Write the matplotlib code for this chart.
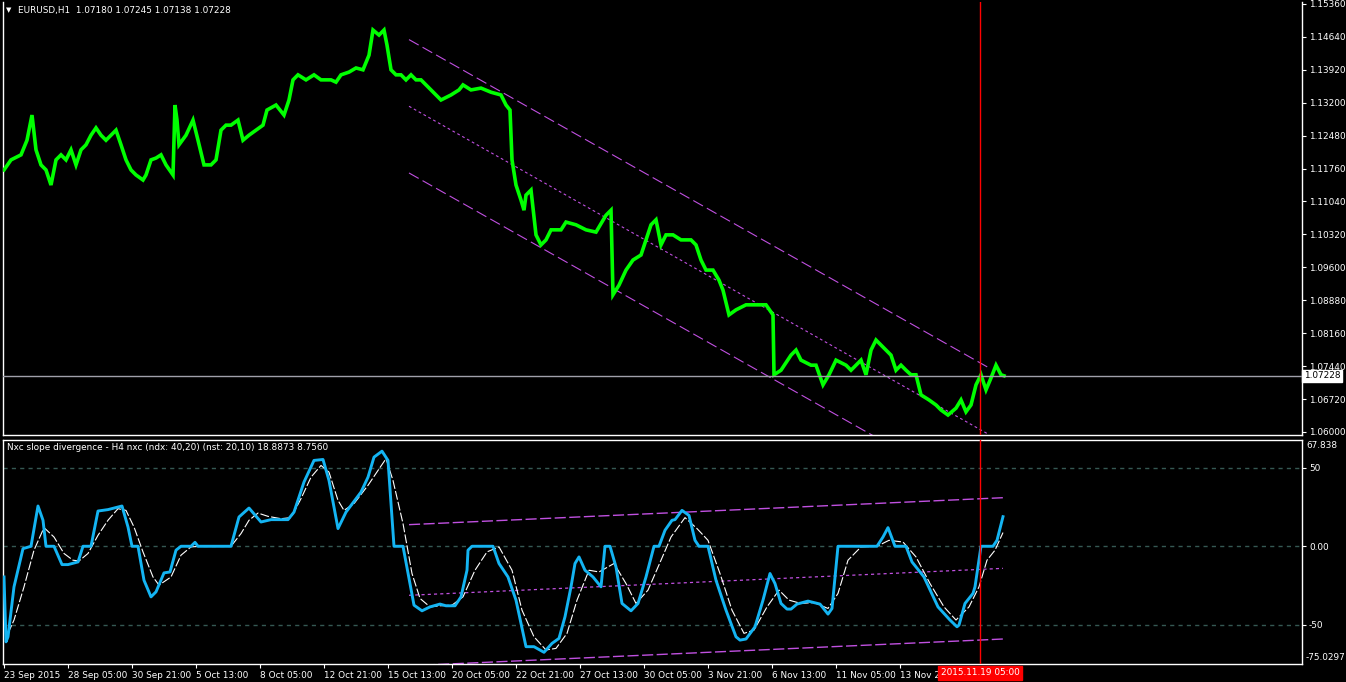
import numpy as np
import matplotlib.pyplot as plt
from matplotlib.transforms import blended_transform_factory

plt.rcParams['font.family'] = 'DejaVu Sans'

# EURUSD H1 (bar index -> price)
price_bar = [0, 7, 17, 23, 28, 32, 37, 42, 47, 52, 57, 62, 67, 72, 77, 82, 87, 92, 97, 102,
             107, 112, 117, 122, 127, 132, 139, 142, 147, 152, 157, 162, 169, 171, 173, 175, 182,
             189, 194, 200, 207, 212, 217, 222, 227, 234, 239, 245, 252, 259, 263, 272, 280, 285,
             289, 294, 302, 310, 317, 327, 332, 337, 345, 352, 359, 365, 369, 375, 380, 383, 387,
             392, 397, 402, 407, 412, 417, 427, 437, 447, 455, 459, 467, 477, 487, 497, 502, 506,
             508, 512, 517, 520, 522, 527, 532, 537, 542, 547, 557, 562, 572, 582, 592, 602, 607,
             609, 615, 622, 629, 637, 642, 647, 652, 657, 662, 669, 677, 687, 692, 697, 702, 709,
             715, 719, 725, 732, 742, 752, 762, 769, 770, 777, 787, 792, 797, 807, 812, 819, 825,
             832, 842, 847, 857, 862, 867, 872, 877, 882, 887, 892, 897, 902, 907, 912, 917, 925,
             932, 937, 944, 952, 957, 962, 967, 972, 977, 982, 987, 992, 997, 1000]
price = [1.1173, 1.1195, 1.1206, 1.1238, 1.1293, 1.1217, 1.1184, 1.1173, 1.1140, 1.1195,
         1.1206, 1.1195, 1.1217, 1.1184, 1.1217, 1.1228, 1.1249, 1.1265, 1.1249, 1.1238,
         1.1249, 1.1260, 1.1228, 1.1195, 1.1173, 1.1162, 1.1151, 1.1162, 1.1195, 1.1199,
         1.1206, 1.1184, 1.1162, 1.1315, 1.1282, 1.1228, 1.1249, 1.1282, 1.1238, 1.1184,
         1.1184, 1.1195, 1.1260, 1.1271, 1.1271, 1.1282, 1.1238, 1.1249, 1.1260, 1.1271,
         1.1304, 1.1315, 1.1293, 1.1326, 1.1370, 1.1381, 1.1370, 1.1381, 1.1370, 1.1370,
         1.1365, 1.1381, 1.1387, 1.1396, 1.1392, 1.1424, 1.1479, 1.1468, 1.1479, 1.1446,
         1.1392, 1.1381, 1.1381, 1.1370, 1.1381, 1.1370, 1.1370, 1.1348, 1.1326, 1.1337,
         1.1348, 1.1359, 1.1348, 1.1352, 1.1343, 1.1337, 1.1315, 1.1304, 1.1195, 1.1140,
         1.1107, 1.1085, 1.1118, 1.1129, 1.1031, 1.1009, 1.1020, 1.1042, 1.1042, 1.1059,
         1.1053, 1.1042, 1.1037, 1.1074, 1.1085, 1.0900, 1.0921, 1.0954, 1.0976, 1.0987,
         1.1020, 1.1053, 1.1064, 1.1009, 1.1031, 1.1031, 1.1020, 1.1020, 1.1009, 1.0976,
         1.0954, 1.0954, 1.0932, 1.0910, 1.0856, 1.0867, 1.0878, 1.0878, 1.0878, 1.0856,
         1.0725, 1.0735, 1.0768, 1.0779, 1.0757, 1.0746, 1.0746, 1.0703, 1.0725, 1.0757,
         1.0746, 1.0735, 1.0757, 1.0725, 1.0779, 1.0801, 1.0790, 1.0779, 1.0768, 1.0735,
         1.0746, 1.0735, 1.0725, 1.0725, 1.0681, 1.0670, 1.0659, 1.0648, 1.0637, 1.0652,
         1.0670, 1.0644, 1.0659, 1.0703, 1.0725, 1.0692, 1.0718, 1.0746, 1.0725, 1.07228]

# Nxc slope divergence: main line and signal line
main_bar = [0, 2, 4, 10, 19, 27, 34, 39, 42, 50, 58, 64, 74, 79, 87, 94, 104, 118, 124, 128,
            134, 140, 147, 152, 160, 166, 172, 177, 187, 191, 194, 227, 235, 245, 257, 267, 284,
            290, 300, 310, 319, 325, 334, 342, 357, 364, 370, 378, 384, 390, 399, 410, 418, 426,
            436, 442, 451, 457, 463, 464, 468, 489, 495, 504, 512, 522, 530, 540, 548, 555, 561,
            567, 571, 575, 581, 589, 597, 601, 606, 612, 618, 627, 634, 642, 650, 655, 661, 668,
            671, 678, 685, 691, 695, 704, 712, 722, 732, 736, 742, 751, 759, 766, 771, 777, 783,
            787, 793, 804, 816, 824, 828, 832, 834, 873, 879, 884, 891, 902, 908, 920, 934, 946,
            953, 955, 961, 969, 971, 977, 989, 993, 999]
main_val = [-19.6, -61.0, -57.8, -25.9, -1.5, 0, 25.7, 16.6, 0, 0, -11.7, -11.7, -10.0, 0, 0,
            22.5, 23.4, 25.7, 12.3, 0, 0, -21.7, -32.3, -29.1, -17.0, -16.4, -2.5, 0, 0, 2.5, 0,
            0, 18.7, 24.4, 15.5, 17.0, 17.0, 21.8, 41.0, 54.8, 55.4, 42.0, 11.3, 21.8, 34.6, 44.1,
            56.9, 60.7, 54.8, 0, 0, -37.6, -41.2, -38.7, -36.9, -38.0, -38.0, -32.3, -15.3, -2.5,
            0, 0, -11.0, -19.6, -34.4, -64.1, -64.1, -67.7, -62.0, -58.8, -45.0, -25.9, -11.0,
            -6.8, -15.3, -19.6, -25.9, 0, 0, -13.2, -36.5, -41.2, -36.5, -19.6, 0, 0, 10.2, 16.6,
            17.0, 22.9, 19.7, 3.8, 0, 0, -21.7, -40.8, -57.8, -59.9, -59.2, -51.4, -34.4, -17.4,
            -23.8, -36.5, -40.1, -40.1, -36.9, -35.0, -36.9, -43.3, -39.7, -13.2, 0, 0, 5.9, 11.9,
            0, 0, -10.0, -19.6, -38.7, -47.1, -51.4, -50.3, -36.5, -30.1, -25.9, 0, 0, 3.8, 18.8873]

sig_bar = [4, 10, 20, 30, 40, 50, 60, 69, 75, 84, 94, 104, 114, 122, 130, 139, 149, 155, 167,
           177, 187, 197, 227, 237, 245, 254, 264, 277, 287, 297, 307, 317, 325, 334, 340, 350,
           364, 374, 382, 389, 399, 408, 416, 426, 436, 448, 459, 471, 483, 495, 508, 518, 530,
           542, 552, 563, 573, 585, 595, 610, 622, 632, 644, 657, 667, 681, 693, 704, 716, 728,
           740, 750, 763, 775, 785, 797, 810, 824, 834, 844, 857, 873, 885, 899, 912, 926, 940,
           952, 965, 975, 983, 991, 999]
sig_val = [-55.6, -47.1, -25.9, -2.5, 11.9, 5.9, -4.6, -8.9, -9.4, -4.6, 7.0, 16.6, 24.0, 22.9,
           12.3, -3.6, -19.6, -24.8, -19.6, -5.7, -0.4, 0, 0, 8.1, 16.6, 21.2, 19.1, 17.6, 18.3,
           30.4, 44.1, 51.6, 47.3, 29.3, 22.9, 27.2, 38.9, 48.4, 55.9, 42.0, 14.5, -17.4, -33.3,
           -38.7, -38.0, -37.6, -32.3, -15.3, -3.6, -0.4, -15.3, -40.8, -57.8, -66.2, -65.2,
           -55.6, -34.4, -15.3, -16.4, -11.0, -23.8, -36.5, -28.0, -8.9, 5.9, 18.3, 11.3, 3.8,
           -17.4, -40.8, -55.6, -53.5, -38.7, -28.0, -34.4, -36.5, -35.9, -39.7, -30.1, -8.9,
           -0.4, 0, 3.8, 2.7, -6.8, -23.8, -38.7, -47.1, -38.7, -25.9, -8.9, -2.5, 8.756]

price_ticks = [1.15360, 1.14640, 1.13920, 1.13200, 1.12480, 1.11760, 1.11040,
               1.10320, 1.09600, 1.08880, 1.08160, 1.07440, 1.06720, 1.06000]
time_labels = ['23 Sep 2015', '28 Sep 05:00', '30 Sep 21:00', '5 Oct 13:00', '8 Oct 05:00',
               '12 Oct 21:00', '15 Oct 13:00', '20 Oct 05:00', '22 Oct 21:00', '27 Oct 13:00',
               '30 Oct 05:00', '3 Nov 21:00', '6 Nov 13:00', '11 Nov 05:00', '13 Nov 21:00']
time_step = 64
levels = [50, 0, -50]
level_labels = ['50', '0.00', '-50']

# regression channels (start bar, end bar)
chan_bars = [405, 984]
chan_upper = [1.14581, 1.07413]
chan_mid = [1.13123, 1.05955]
chan_lower = [1.11664, 1.04496]
osc_bars = [405, 999]
osc_upper = [13.8, 31.0]
osc_mid = [-31.3, -14.1]
osc_lower = [-76.3, -59.2]

bid = 1.07228
cursor_bar = 976
cursor_label = '2015.11.19 05:00'
title_top = 'EURUSD,H1  1.07180 1.07245 1.07138 1.07228'
title_bot = 'Nxc slope divergence - H4 nxc (ndx: 40,20) (nst: 20,10) 18.8873 8.7560'

W, H = 1346, 682
fs = 6.4
violet = '#c050e0'
fig = plt.figure(figsize=(W / 100, H / 100), dpi=100, facecolor='black')
ax1 = fig.add_axes([3 / W, (H - 435) / H, 1299 / W, 433 / H], facecolor='black')
ax2 = fig.add_axes([3 / W, (H - 663.8) / H, 1299 / W, 223.8 / H], facecolor='black')

for ax in (ax1, ax2):
    ax.set_xlim(-1, 1298)
    for s in ax.spines.values():
        s.set_color('white')
        s.set_linewidth(1)
    ax.yaxis.tick_right()
    ax.tick_params(axis='y', colors='white', labelcolor='white', length=3,
                   labelsize=fs, pad=2, direction='out')
    ax.axvline(cursor_bar, color='red', lw=1, zorder=5)
ax1.spines['top'].set_visible(False)

# --- price panel
ax1.set_ylim(1.05933, 1.15403)
ax1.set_yticks(price_ticks)
ax1.set_yticklabels(['%.5f' % p for p in price_ticks])
ax1.tick_params(axis='x', bottom=False, labelbottom=False)
ax1.plot(price_bar, price, color='#00ff00', lw=2.6, solid_joinstyle='miter', zorder=3)
ax1.plot(chan_bars, chan_upper, color=violet, lw=0.8, ls=(0, (10, 4)), zorder=2)
ax1.plot(chan_bars, chan_lower, color=violet, lw=0.8, ls=(0, (10, 4)), zorder=2)
ax1.plot(chan_bars, chan_mid, color=violet, lw=0.8, ls=(0, (2.5, 2.5)), zorder=2)
ax1.axhline(bid, color='#a0a0aa', lw=1, zorder=4)
tr1 = blended_transform_factory(ax1.transAxes, ax1.transData)
ax1.text(1.0015, bid, '1.07228', transform=tr1, color='black', fontsize=fs, va='center',
         ha='left', bbox=dict(boxstyle='square,pad=0.2', fc='white', ec='white'))
fig.text(6 / W, 1 - 10 / H, '\u25BC', color='white', fontsize=5, va='center')
fig.text(18 / W, 1 - 10 / H, title_top, color='white', fontsize=fs, va='center')

# --- oscillator panel
ax2.set_ylim(-75.0297, 67.838)
ax2.set_yticks(levels)
ax2.set_yticklabels(level_labels)
for lv in levels:
    ax2.axhline(lv, color='#355853', lw=1, ls=(0, (3, 3)), zorder=1)
ax2.plot(osc_bars, osc_upper, color=violet, lw=1, ls=(0, (8, 2.5)), zorder=2)
ax2.plot(osc_bars, osc_lower, color=violet, lw=1, ls=(0, (8, 2.5)), zorder=2)
ax2.plot(osc_bars, osc_mid, color=violet, lw=0.9, ls=(0, (2.5, 2.5)), zorder=2)
ax2.plot(sig_bar, sig_val, color='white', lw=0.8, ls=(0, (8, 2)), zorder=3)
ax2.plot(main_bar, main_val, color='#14b4f2', lw=2.1, zorder=4)
ax2.text(1.003, 0.995, '67.838', transform=ax2.transAxes, color='white', fontsize=fs,
         va='top', ha='left')
ax2.text(1.003, 0.01, '-75.0297', transform=ax2.transAxes, color='white', fontsize=fs,
         va='bottom', ha='left')
fig.text(7 / W, 1 - 447 / H, title_bot, color='white', fontsize=fs, va='center')

ticks = [time_step * i for i in range(len(time_labels))]
ax2.set_xticks(ticks)
ax2.set_xticklabels(time_labels, ha='left')
ax2.tick_params(axis='x', colors='white', labelcolor='white', length=3, labelsize=fs,
                pad=2, direction='out')
tr2 = blended_transform_factory(ax2.transData, ax2.transAxes)
ax2.text(cursor_bar, -0.02, cursor_label, transform=tr2, color='white', fontsize=fs,
         ha='center', va='top', zorder=10,
         bbox=dict(boxstyle='square,pad=0.3', fc='red', ec='red'))

fig.savefig('out.png', dpi=100, facecolor='black')
